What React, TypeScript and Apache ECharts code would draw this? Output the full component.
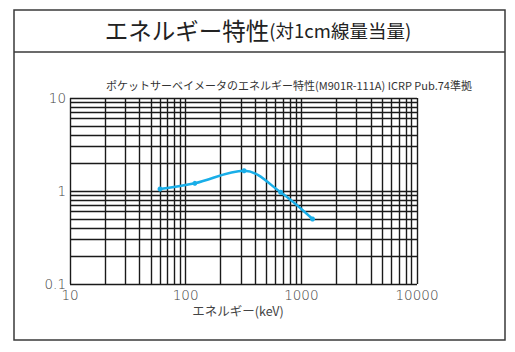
import React, { useEffect, useRef } from "react";
import * as echarts from "echarts";

const energies = [60, 120, 320, 662, 1250];
const response = [1.05, 1.21, 1.65, 0.97, 0.5];
const xTicks = [10, 100, 1000, 10000];
const yTicks = [0.1, 1, 10];
const titleMain = "エネルギー特性";
const titleSub = "(対1cm線量当量)";
const subtitle = "ポケットサーベイメータのエネルギー特性(M901R-111A) ICRP Pub.74準拠";
const xName = "エネルギー(keV)";

function minorValues(decades: number[], top: number): number[] {
  const out: number[] = [];
  decades.forEach((d) => {
    for (let k = 1; k <= 9; k++) out.push(+(k * d).toPrecision(6));
  });
  out.push(top);
  return out;
}

export default function App() {
  const ref = useRef<HTMLDivElement>(null);
  useEffect(() => {
    if (!ref.current) return;
    const chart = echarts.init(ref.current, undefined, { renderer: "svg" });
    const xGrid = minorValues([10, 100, 1000], 10000);
    const yGrid = minorValues([0.1, 1], 10);
    const gridStyle = { color: "#1a1a1a", width: 1.4, type: "solid" as const };
    const labelFont = "DejaVu Sans, sans-serif";
    chart.setOption({
      animation: false,
      backgroundColor: "#fff",
      grid: { left: 70, top: 98, width: 347, height: 186, containLabel: false },
      xAxis: {
        type: "log",
        logBase: 10,
        min: 10,
        max: 10000,
        axisLine: { show: false },
        axisTick: { show: false },
        splitLine: { show: false },
        minorSplitLine: { show: false },
        axisLabel: {
          margin: 4,
          fontSize: 13.5,
          color: "#444",
          fontFamily: labelFont,
          fontWeight: 200,
          formatter: (v: number) => (xTicks.includes(v) ? String(v) : ""),
        },
      },
      yAxis: {
        type: "log",
        logBase: 10,
        min: 0.1,
        max: 10,
        axisLine: { show: false },
        axisTick: { show: false },
        splitLine: { show: false },
        axisLabel: {
          margin: 4,
          fontSize: 13.5,
          color: "#444",
          fontFamily: labelFont,
          fontWeight: 200,
          formatter: (v: number) => {
            const m = yTicks.find((t) => Math.abs(t - v) < 1e-9);
            return m !== undefined ? String(m) : "";
          },
        },
      },
      series: [
        {
          type: "scatter",
          data: [],
          z: 1,
          silent: true,
          markLine: {
            silent: true,
            symbol: "none",
            label: { show: false },
            lineStyle: gridStyle,
            data: [
              ...xGrid.map((v) => ({ xAxis: v })),
              ...yGrid.map((v) => ({ yAxis: v })),
            ],
          },
        },
        {
          type: "line",
          z: 5,
          data: energies.map((e, i) => [e, response[i]]),
          smooth: 0.35,
          symbol: "circle",
          symbolSize: 5,
          lineStyle: { color: "#19aee8", width: 2.5 },
          itemStyle: { color: "#19aee8" },
        },
      ],
      graphic: [
        {
          type: "rect",
          shape: { x: 14, y: 10, width: 491, height: 330 },
          style: { fill: "none", stroke: "#3a3a3a", lineWidth: 1.5 },
          z: 0,
        },
        {
          type: "line",
          shape: { x1: 14, y1: 52, x2: 505, y2: 52 },
          style: { stroke: "#3a3a3a", lineWidth: 1.5 },
        },
        {
          type: "text",
          x: 258,
          y: 30,
          style: {
            text: "{a|" + titleMain + "}{b|" + titleSub + "}",
            align: "center",
            verticalAlign: "middle",
            rich: {
              a: { fontSize: 23.5, fontFamily: "Noto Sans CJK JP", fill: "#222" },
              b: { fontSize: 18.5, fontFamily: "Noto Sans CJK JP", fill: "#222" },
            },
          },
        },
        {
          type: "text",
          x: 289,
          y: 85,
          style: {
            text: subtitle,
            align: "center",
            verticalAlign: "middle",
            fontSize: 11,
            fontFamily: "Noto Sans CJK JP",
            fill: "#333",
          },
        },
        {
          type: "text",
          x: 238,
          y: 310.5,
          style: {
            text: xName,
            align: "center",
            verticalAlign: "middle",
            fontSize: 12.5,
            fontFamily: "Noto Sans CJK JP",
            fill: "#444",
          },
        },
      ],
    });
    return () => chart.dispose();
  }, []);
  return (
    <div
      ref={ref}
      style={{ position: "absolute", left: 0, top: 0, width: 515, height: 352 }}
    />
  );
}
